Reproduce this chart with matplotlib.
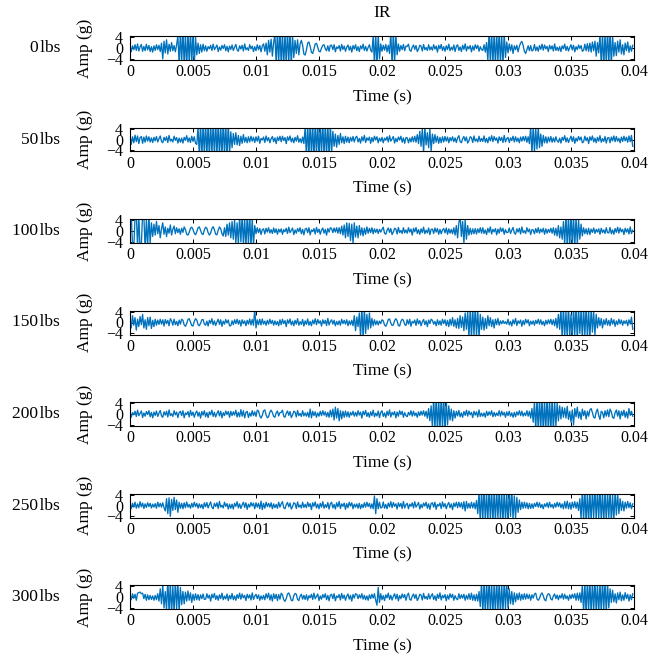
import numpy as np
import matplotlib
matplotlib.use("Agg")
import matplotlib.pyplot as plt

# Acceleration in tenths of g, sampled every 0.1 ms (0 .. 0.0399 s)
s0 = [
 10,-14,8,-6,12,-9,15,-11,4,13,-12,6,-10,14,-7,9,-13,5,-15,8,
 -9,12,-6,10,-13,18,-40,25,-18,30,-22,14,-12,20,-10,9,-14,12,45,-60,
 62,-58,70,-65,55,-72,60,-55,68,-60,58,-66,40,-25,18,-20,12,-15,14,-10,
 8,-12,5,-3,10,-9,14,-6,2,11,-13,4,-8,9,-2,12,-10,6,-14,7,
 -5,11,-9,3,13,-7,-12,8,-4,10,-11,15,-6,1,-9,12,-3,7,-13,5,
 -10,12,-6,9,-14,8,15,-12,18,-25,28,-15,32,-30,20,52,-60,65,-58,70,
 -64,60,-70,55,-62,68,-55,60,-66,48,-35,28,-20,30,-25,15,28,10,-22,-26,
 -8,18,22,6,-16,-20,-4,15,17,2,-12,-14,0,10,12,-3,-10,8,-12,10,
 10,-6,12,-14,4,-2,9,-11,13,-5,7,-12,3,11,-8,6,-15,9,-4,12,
 -10,5,-13,8,-3,14,-9,6,-11,2,12,-7,-15,45,-60,55,-65,50,-40,15,
 -12,10,-8,13,-14,10,-20,58,-66,62,-55,50,-25,15,-12,9,-6,13,-10,7,
 6,14,-8,-12,3,11,-5,9,-13,-4,10,7,-11,13,-6,2,-9,12,-7,4,
 -8,12,-4,7,-15,10,-3,13,-9,5,-12,8,-6,14,-10,3,-7,11,-13,6,
 12,-9,4,-13,10,-5,15,-11,6,-3,9,-14,7,-8,12,-2,10,-12,5,-6,
 -9,12,-15,20,-45,62,-58,66,-60,55,-68,60,-52,64,-58,50,-62,55,-35,22,
 -18,15,-10,12,-20,8,-6,10,-14,6,18,24,10,-12,-20,-6,8,-10,9,-11,
 -7,13,-10,4,-12,9,-5,14,-8,11,-3,6,-13,10,-4,8,-11,15,-9,3,
 -10,5,-13,8,-3,14,-9,6,-11,2,12,-7,10,-14,5,-6,11,-2,9,-12,
 -8,14,-10,16,-12,18,-15,22,-10,25,-30,20,-18,50,-62,58,-70,55,-60,68,
 -58,62,-66,45,-30,20,-28,25,-15,30,-22,12,-25,18,-10,22,-16,8,-12,10,
]

s50 = [
 15,-18,10,-12,16,-8,13,-15,7,11,-14,9,-10,13,-6,10,-9,6,-11,8,
 -5,11,-9,3,13,-7,-12,8,-4,10,-11,15,-6,1,-9,12,-3,7,-13,5,
 -10,5,-13,8,-3,14,-9,6,-11,12,-7,10,-14,-18,45,-60,62,-68,55,-58,
 66,-62,58,-70,64,-55,60,-66,70,-58,62,-64,55,-60,68,-62,58,-66,60,-55,
 28,-30,22,-18,25,-20,15,-22,12,-14,18,-10,8,-12,10,-9,12,-6,8,-11,
 10,-6,12,-14,4,-2,9,-11,13,-5,7,-12,3,11,-8,6,-15,9,-4,12,
 -8,12,-4,7,-15,10,-3,13,-9,5,-12,8,-6,14,-10,3,-12,9,-15,45,
 -62,58,-66,70,-60,55,-68,62,-58,64,-70,60,-55,66,-62,58,-64,60,-66,55,
 -50,30,-25,20,-28,15,-18,22,-12,10,-15,12,-10,9,-12,8,-6,11,-9,7,
 12,-9,4,-13,10,-5,15,-11,6,-3,9,-14,7,-8,12,-2,10,-12,5,-6,
 8,-12,5,-3,10,-9,14,-6,2,11,-13,4,-8,9,-2,12,-10,6,-14,7,
 6,-12,5,-9,10,-8,12,-10,18,-15,30,-25,40,-48,45,-20,25,-30,38,-42,
 20,-15,18,-10,12,-14,8,-12,10,-9,11,-6,9,-12,7,-5,10,-8,6,-11,
 6,14,-8,-12,3,11,-5,9,-13,-4,10,7,-11,13,-6,2,-9,12,-7,4,
 -7,13,-10,4,-12,9,-5,14,-8,11,-3,6,-13,10,-4,8,-11,15,-9,3,
 8,-11,6,-4,12,-9,10,-7,5,-12,9,-6,11,-5,12,-10,10,-15,48,-55,
 52,-48,40,-35,45,-30,20,-25,15,-12,10,-13,9,-8,11,-10,6,-9,10,-5,
 -10,5,-13,8,-3,14,-9,6,-11,2,12,-7,10,-14,5,-6,11,-2,9,-12,
 -8,12,-4,7,-15,10,-3,13,-9,5,-12,8,-6,14,-10,3,-7,11,-13,6,
 7,-12,9,-5,13,-8,11,-6,4,-12,9,-7,12,-5,8,-10,13,-8,15,-25,
]

s100 = [
 40,60,-55,-60,50,65,-62,58,-70,-50,62,55,-66,40,-58,60,-45,30,-20,25,
 -15,35,-10,20,-25,8,30,-12,15,-20,10,-8,22,-15,6,18,-10,12,-6,8,
 -12,10,-5,15,5,-12,-15,-5,10,14,6,-8,-14,-3,12,15,2,-10,-13,4,
 14,10,-6,-15,-8,9,16,4,-12,-14,3,15,8,-10,-18,12,-20,25,-15,30,
 -25,35,-30,40,-45,30,-50,55,-40,60,-55,48,-62,58,-50,65,-60,45,-55,20,
 -10,12,-6,9,-13,5,8,-11,10,-4,12,-7,5,-9,11,-6,8,-12,7,-4,
 8,-12,5,-3,10,-9,14,-6,2,11,-13,4,-8,9,-2,12,-10,6,-14,7,
 10,-6,12,-14,4,-2,9,-11,13,-5,7,-12,3,11,-8,6,-15,9,-4,12,
 9,-6,11,-4,12,-8,12,-10,18,-15,22,-25,30,-20,28,-35,25,-45,30,-22,
 18,-25,20,-15,12,-18,10,-12,15,-8,10,-6,12,-10,8,-5,7,-9,6,-4,
 6,14,-8,-12,3,11,-5,9,-13,-4,10,7,-11,13,-6,2,-9,12,-7,4,
 -8,12,-4,7,-15,10,-3,13,-9,5,-12,8,-6,14,-10,3,-7,11,-13,6,
 7,-9,11,-4,9,-12,6,-10,4,9,-7,11,-12,8,-8,6,-10,12,-15,20,
 -25,30,55,-20,35,-45,40,-30,20,-15,10,-12,8,-10,9,-11,8,-6,12,-8,
 12,-9,4,-13,10,-5,15,-11,6,-3,9,-14,7,-8,12,-2,10,-12,5,-6,
 -5,11,-9,3,13,-7,-12,8,-4,10,-11,15,-6,1,-9,12,-3,7,-13,5,
 4,-10,9,-6,12,-8,7,-4,10,-12,8,-8,6,-5,10,-8,12,-15,10,-18,
 20,-25,15,-30,35,-50,60,-58,55,-62,65,-55,58,-60,52,-48,40,-30,25,-18,
 12,-10,8,-12,10,-13,7,-5,11,-9,6,-4,8,-12,10,-6,4,-9,12,-6,
 -7,13,-10,4,-12,9,-5,14,-8,11,-3,6,-13,10,-4,8,-11,15,-9,3,
]

s150 = [
 15,-20,25,-10,18,-28,12,-15,22,-8,30,-20,10,-25,18,-12,20,-22,8,-15,
 12,-10,9,-7,12,-6,10,-13,11,-4,8,-12,14,6,-10,12,-8,4,-12,9,
 -6,12,8,-9,-14,-4,11,14,2,-11,-13,4,14,9,-8,-12,-3,10,11,-6,
 -10,5,-13,8,-3,14,-9,6,-11,2,12,-7,10,-14,5,-6,11,-2,9,-12,
 -12,6,-8,10,-4,12,-6,8,-13,10,-4,6,-12,8,-6,13,-9,11,-10,50,
 -20,10,-8,12,-9,13,-6,5,-10,8,-6,12,-4,8,-10,6,-8,4,-12,10,
 -8,12,-4,7,-15,10,-3,13,-9,5,-12,8,-6,14,-10,3,-7,11,-13,6,
 -7,13,-10,4,-12,9,-5,14,-8,11,-3,6,-13,10,-4,8,-11,15,-9,3,
 10,-6,8,-12,4,-8,6,-10,12,-4,8,-6,10,-12,6,-8,8,-12,25,-30,
 20,-15,35,-55,58,-60,52,-40,30,-25,35,-20,15,-12,10,-8,6,-9,5,-4,
 10,6,-9,-14,-4,11,13,-2,-11,-9,7,14,6,-11,-13,4,12,8,-7,-11,
 10,-6,12,-14,4,-2,9,-11,13,-5,7,-12,3,11,-8,6,-15,9,-4,12,
 8,-6,4,-12,10,-8,6,-10,12,-4,10,-12,8,-15,12,-10,18,-14,10,-20,
 15,-22,25,-18,20,-30,35,-25,40,-55,50,-60,55,-48,62,-50,45,-58,30,-25,
 20,-28,15,-22,25,-12,18,-15,10,-20,12,-8,15,-10,6,-5,7,-4,3,-6,
 12,-9,4,-13,10,-5,15,-11,6,-3,9,-14,7,-8,12,-2,10,-12,5,-6,
 6,-10,8,-4,12,-6,10,-8,4,-12,8,-6,10,-4,12,-8,10,-12,15,-20,
 30,-25,50,-60,62,-55,40,-58,65,-50,30,-62,58,-45,60,-66,55,-40,50,-62,
 58,-50,62,-55,45,-60,55,-35,40,-45,30,-20,18,-12,15,-20,10,-8,14,-10,
 8,-12,15,-6,10,-14,6,-8,12,-5,9,-10,6,-4,8,-12,10,-6,20,-25,
]

s200 = [
 8,-12,5,-3,10,-9,14,-6,2,11,-13,4,-8,9,-2,12,-10,6,-14,7,
 -5,11,-9,3,13,-7,-12,8,-4,10,-11,15,-6,1,-9,12,-3,7,-13,5,
 10,-6,12,-14,4,-2,9,-11,13,-5,7,-12,3,11,-8,6,-15,9,-4,12,
 -10,5,-13,8,-3,14,-9,6,-11,2,12,-7,10,-14,5,-6,11,-2,9,-12,
 10,-6,8,-4,14,-11,6,-10,16,-8,12,-14,6,10,-13,4,-8,12,-6,8,
 -9,14,11,-7,-15,-5,12,15,-3,-14,-10,7,14,5,-9,-12,4,11,-7,5,
 6,14,-8,-12,3,11,-5,9,-13,-4,10,7,-11,13,-6,2,-9,12,-7,4,
 -8,6,-12,18,-14,10,-6,8,-12,4,-8,10,-6,12,-4,8,-10,6,-12,14,
 -10,18,-22,25,-15,20,-25,12,-18,10,-12,11,-10,8,-12,6,-4,10,-8,6,
 -8,12,-4,7,-15,10,-3,13,-9,5,-12,8,-6,14,-10,3,-7,11,-13,6,
 12,-9,4,-13,10,-5,15,-11,6,-3,9,-14,7,-8,12,-2,10,-12,5,-6,
 -10,6,-4,12,-8,10,-6,4,-12,8,-6,10,-4,12,-8,10,-15,20,-25,30,
 -50,60,-58,62,-65,55,-60,68,-52,58,-62,50,-40,30,-22,18,-25,12,-15,10,
 -7,13,-10,4,-12,9,-5,14,-8,11,-3,6,-13,10,-4,8,-11,15,-9,3,
 -8,4,-12,10,-6,8,-4,12,-10,6,-8,4,-6,12,-8,10,-4,6,-12,8,
 -6,10,-8,4,-12,6,-10,8,-4,12,-6,10,-8,4,-6,12,-8,10,-15,20,
 -30,45,-60,58,-65,62,-55,60,-68,52,-58,64,-60,55,-62,58,-66,50,-45,40,
 -25,30,-18,25,-12,22,-15,28,-20,10,-30,15,-40,20,-10,25,-15,8,-20,18,
 -6,12,-18,10,-8,15,20,5,-12,-15,8,18,-5,-20,10,6,-14,12,-8,15,
 -10,18,8,-12,-16,5,15,-8,12,-18,10,-6,14,-12,8,-15,20,-5,10,-8,
]

s250 = [
 10,-12,8,-6,12,-10,6,-8,14,-5,9,-11,6,-7,10,-4,8,-9,5,-6,
 7,-10,12,-5,8,-6,10,-8,-20,25,-30,28,-40,22,-18,30,-15,20,-25,12,
 -10,8,-12,10,-8,13,-6,4,-10,8,-6,12,-4,8,-10,6,-8,4,-12,10,
 -5,11,-9,3,13,-7,-12,8,-4,10,-11,15,-6,1,-9,12,-3,7,-13,5,
 -10,5,-13,8,-3,14,-9,6,-11,2,12,-7,10,-14,5,-6,11,-2,9,-12,
 10,-6,8,-12,16,-15,8,-10,12,-4,8,-6,10,-12,6,-8,4,-10,12,-6,
 6,14,-8,-12,3,11,-5,9,-13,-4,10,7,-11,13,-6,2,-9,12,-7,4,
 -8,12,-4,7,-15,10,-3,13,-9,5,-12,8,-6,14,-10,3,-7,11,-13,6,
 12,-9,4,-13,10,-5,15,-11,6,-3,9,-14,7,-8,12,-2,10,-12,5,-6,
 6,-10,8,-12,4,-8,10,-6,12,-4,8,-10,6,-12,35,-30,25,-12,12,-9,
 -7,13,-10,4,-12,9,-5,14,-8,11,-3,6,-13,10,-4,8,-11,15,-9,3,
 8,-12,5,-3,10,-9,14,-6,2,11,-13,4,-8,9,-2,12,-10,6,-14,7,
 10,-6,12,-14,4,-2,9,-11,13,-5,7,-12,3,11,-8,6,-15,9,-4,12,
 -8,12,-6,10,-12,14,-20,15,-10,8,-10,12,-9,10,-12,18,-30,50,-62,58,
 -55,66,-60,48,-58,64,-52,60,-66,55,-62,58,-48,62,-55,50,-64,60,-58,45,
 -62,55,-40,60,-50,35,-45,30,-25,20,-15,12,-10,12,-9,10,-12,8,-11,6,
 -10,8,-4,12,-6,10,-8,4,-12,6,-4,10,-8,12,-6,4,-10,8,-6,12,
 -4,10,-8,6,-12,14,-10,16,-12,10,-14,12,-8,14,-10,12,-18,25,-50,60,
 -58,62,-66,50,-60,55,-64,58,-45,62,-55,60,-50,66,-58,48,-62,55,-60,52,
 -45,58,-62,40,-55,50,-35,45,-30,25,-18,15,-20,12,-10,15,-8,10,-12,6,
]

s300 = [
 8,-10,12,-5,10,-12,14,16,18,12,14,-6,10,-12,8,-10,6,-9,4,-12,
 6,-10,12,-15,30,-25,45,-40,20,-50,70,-60,55,-65,40,-58,62,-45,50,-55,
 35,-28,20,-25,18,-15,22,-12,15,-20,10,-12,12,-10,9,-12,8,-6,11,-9,
 -8,12,-4,7,-15,10,-3,13,-9,5,-12,8,-6,14,-10,3,-7,11,-13,6,
 -7,13,-10,4,-12,9,-5,14,-8,11,-3,6,-13,10,-4,8,-11,15,-9,3,
 10,-6,8,-12,4,-8,6,-10,12,-4,14,-11,8,-15,12,-6,10,-13,9,-8,
 14,8,-10,-16,-6,11,15,4,-12,-14,5,13,10,-9,-13,3,10,-8,6,-9,
 8,-12,5,-3,10,-9,14,-6,2,11,-13,4,-8,9,-2,12,-10,6,-14,7,
 10,-6,12,-14,4,-2,9,-11,13,-5,7,-12,3,11,-8,6,-15,9,-4,12,
 10,-6,8,-4,12,-8,6,-10,4,-12,8,-6,10,-4,12,-12,-30,35,-20,12,
 -10,5,-13,8,-3,14,-9,6,-11,2,12,-7,10,-14,5,-6,11,-2,9,-12,
 6,14,-8,-12,3,11,-5,9,-13,-4,10,7,-11,13,-6,2,-9,12,-7,4,
 12,-9,4,-13,10,-5,15,-11,6,-3,9,-14,7,-8,12,-2,10,-12,5,-6,
 -10,12,-6,8,-4,10,-12,6,-8,12,-9,14,-12,8,-14,10,-15,20,-35,55,
 -62,58,-66,60,-50,64,-58,55,-62,48,-60,66,-55,58,-64,50,-58,62,-45,55,
 -40,30,-25,20,-28,15,-18,12,-10,15,-12,10,-9,12,-8,11,-6,9,-12,8,
 -4,11,14,-7,-12,-5,9,15,4,-10,-14,5,12,9,-7,-11,4,11,-6,7,
 -10,6,-4,12,-8,10,-6,4,-12,8,-6,10,-4,12,-12,14,-12,15,-20,45,
 -60,55,-66,62,-50,58,-64,60,-55,66,-58,50,-62,55,-60,64,-48,58,-62,52,
 -40,30,-20,25,-18,12,-22,15,-10,18,-14,8,-12,16,-6,10,-15,8,-10,12,
]

series = [s0, s50, s100, s150, s200, s250, s300]
loads = ["0\u200albs", "50\u200albs", "100\u200albs", "150\u200albs",
         "200\u200albs", "250\u200albs", "300\u200albs"]
xticks = [0, 0.005, 0.01, 0.015, 0.02, 0.025, 0.03, 0.035, 0.04]
xticklabels = ["0", "0.005", "0.01", "0.015", "0.02", "0.025", "0.03", "0.035", "0.04"]
yticks = [-4, 0, 4]
yticklabels = ["\u22124", "0", "4"]
dt = 1e-4
title = "IR"

plt.rcParams['font.family'] = ['Liberation Serif', 'DejaVu Serif']

W, H = 665, 660
fig = plt.figure(figsize=(W / 100, H / 100), dpi=100)
color = '#0072BD'
left_px, width_px = 130, 504
h_px = 24
for k, s in enumerate(series):
    top_px = 36 + 91.5 * k
    ax = fig.add_axes([left_px / W, 1 - (top_px + h_px) / H, width_px / W, h_px / H])
    y = np.array(s, dtype=float) / 10.0
    t = np.arange(len(y)) * dt
    ax.plot(t, y, color=color, lw=0.95)
    ax.set_xlim(0, 0.04)
    ax.set_ylim(-4.4, 4.4)
    ax.set_xticks(xticks)
    ax.set_xticklabels(xticklabels)
    ax.set_yticks(yticks)
    ax.set_yticklabels(yticklabels)
    ax.tick_params(direction='in', top=True, right=True, length=3, width=0.7,
                   labelsize=11.5)
    ax.tick_params(axis='x', pad=3)
    ax.tick_params(axis='y', pad=5)
    for sp in ax.spines.values():
        sp.set_linewidth(0.8)
    ax.set_xlabel("Time (s)", fontsize=12.5)
    ax.xaxis.set_label_coords(0.5, -29 / h_px)
    ax.set_ylabel("Amp (g)", fontsize=12.5)
    ax.yaxis.set_label_coords((93 - 130) / width_px, 0.5)
    if k == 0:
        ax.set_title(title, fontsize=12.5, pad=14)
    fig.text(60 / W, 1 - (top_px + h_px / 2) / H, loads[k], ha='right', va='center',
             fontsize=12.5)

fig.savefig("out.png", dpi=100)
